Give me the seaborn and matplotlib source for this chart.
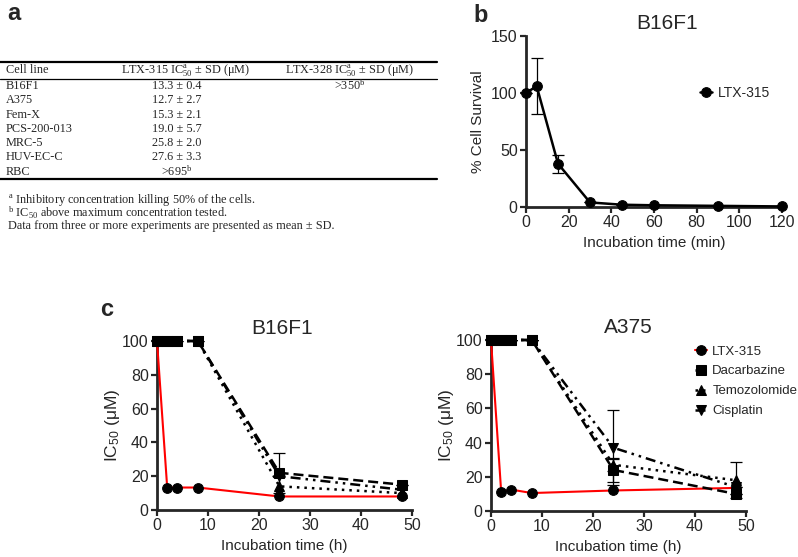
import matplotlib
matplotlib.use("Agg")
import matplotlib.pyplot as plt
import seaborn as sns
from matplotlib.lines import Line2D

# --- data ---
cell_lines = ["B16F1", "A375", "Fem-X", "PCS-200-013", "MRC-5", "HUV-EC-C", "RBC"]
ltx315_ic50 = ["13.3 ± 0.4", "12.7 ± 2.7", "15.3 ± 2.1", "19.0 ± 5.7", "25.8 ± 2.0", "27.6 ± 3.3", ">695$\\mathregular{^b}$"]
ltx328_ic50 = [">350$\\mathregular{^b}$", "", "", "", "", "", ""]

surv_time = [0, 5, 15, 30, 45, 60, 90, 120]
surv_pct = [100, 106, 38, 4, 2, 1.5, 1, 0.5]
surv_sd = [0, 24.5, 8, 0, 0, 0, 0, 0]

hours = [0, 2, 4, 8, 24, 48]
b16_ltx = [100, 13.3, 13.3, 13.3, 8, 8]
b16_dac = [100, 100, 100, 100, 22, 15]
b16_tem = [100, 100, 100, 100, 14, 10]
b16_cis = [100, 100, 100, 100, 20, 12]
b16_dac_sd = [0, 0, 0, 0, 12, 0]

a375_ltx = [100, 11, 12.5, 10.5, 12, 13.5]
a375_dac = [100, 100, 100, 100, 24, 10]
a375_tem = [100, 100, 100, 100, 27, 18]
a375_cis = [100, 100, 100, 100, 37, 14]
a375_dac_sd = [0, 0, 0, 0, 7, 0]
a375_tem_sd = [0, 0, 0, 0, 3.5, 10.5]
a375_cis_sd = [0, 0, 0, 0, 22, 0]

W, H = 798, 557
sns.set_style("ticks")
plt.rcParams['font.family'] = ['Liberation Sans', 'DejaVu Sans']
plt.rcParams['axes.linewidth'] = 2.0

fig = plt.figure(figsize=(W / 100, H / 100), dpi=100)


def fx(x):
    return x / W


def fy(y):
    return 1 - y / H


# ---------- panel a: table ----------
serif = ['Liberation Serif', 'DejaVu Serif']
fig.text(fx(7), fy(14), "a", fontsize=17, fontweight="bold", va="center", ha="left")
for y, lw in [(62, 1.6), (79, 0.9), (179, 1.6)]:
    fig.add_artist(Line2D([fx(0), fx(437)], [fy(y), fy(y)], color="black", lw=lw))
fs = 8.8
fig.text(fx(6), fy(70), "Cell line", family=serif, fontsize=fs, va="center")
fig.text(fx(186), fy(70), "LTX-315 IC$\\mathregular{_{50}^{a}}$ ± SD (μM)", family=serif, fontsize=fs, va="center", ha="center")
fig.text(fx(350), fy(70), "LTX-328 IC$\\mathregular{_{50}^{a}}$ ± SD (μM)", family=serif, fontsize=fs, va="center", ha="center")
for i, (c, v1, v2) in enumerate(zip(cell_lines, ltx315_ic50, ltx328_ic50)):
    y = 86 + i * 14.3
    fig.text(fx(6), fy(y), c, family=serif, fontsize=fs, va="center")
    fig.text(fx(177), fy(y), v1, family=serif, fontsize=fs, va="center", ha="center")
    if v2:
        fig.text(fx(350), fy(y), v2, family=serif, fontsize=fs, va="center", ha="center")
notes = ["$\\mathregular{^a}$ Inhibitory concentration killing 50% of the cells.",
         "$\\mathregular{^b}$ IC$\\mathregular{_{50}}$ above maximum concentration tested.",
         "Data from three or more experiments are presented as mean ± SD."]
for i, n in enumerate(notes):
    fig.text(fx(8), fy(200 + i * 12.8), n, family=serif, fontsize=fs, va="center")


def style_axes(ax):
    sns.despine(ax=ax)
    ax.tick_params(direction="out", length=4, width=1.6, labelsize=11.5, pad=2)


# ---------- panel b ----------
axb = fig.add_axes([fx(526), fy(207), fx(782) - fx(526), fy(36) - fy(207)])
sns.lineplot(x=surv_time, y=surv_pct, ax=axb, color="black", lw=1.8, marker="o",
             markersize=7, markeredgecolor="black", label="LTX-315", clip_on=False, zorder=5)
axb.errorbar(surv_time, surv_pct, yerr=surv_sd, fmt="none", ecolor="black", elinewidth=0.9,
             capsize=4, capthick=0.9)
axb.set_xlim(0, 120)
axb.set_ylim(0, 150)
axb.set_xticks(range(0, 121, 20))
axb.set_yticks([0, 50, 100, 150])
axb.set_title("B16F1", fontsize=15, pad=5, x=0.55)
axb.set_xlabel("Incubation time (min)", fontsize=11)
axb.set_ylabel("% Cell Survival", fontsize=11)
style_axes(axb)
axb.legend(frameon=False, loc="center left", bbox_to_anchor=(0.63, 0.665), fontsize=10,
           handlelength=0.9, handletextpad=0.4)
fig.text(fx(473), fy(15), "b", fontsize=17, fontweight="bold", va="center", ha="left")

# ---------- panel c ----------
series_style = [
    ("LTX-315", "red", "o", "-", 1.5),
    ("Dacarbazine", "black", "s", (0, (4, 2)), 1.8),
    ("Temozolomide", "black", "^", (0, (1, 2)), 1.8),
    ("Cisplatin", "black", "v", (0, (4, 2, 1, 2, 1, 2)), 1.8),
]


def draw_ic50(ax, values, errs, title, title_x):
    for (name, col, mk, ls, lw), vals in zip(series_style, values):
        sns.lineplot(x=hours, y=vals, ax=ax, color=col, lw=lw, linestyle=ls, marker=mk,
                     markersize=7, markerfacecolor="black", markeredgecolor="black",
                     label=name, clip_on=False, zorder=5)
    for vals, sd in errs:
        ax.errorbar(hours, vals, yerr=sd, fmt="none", ecolor="black", elinewidth=0.9,
                    capsize=4, capthick=0.9, zorder=4)
    ax.set_xlim(0, 50)
    ax.set_ylim(0, 100)
    ax.set_xticks(range(0, 51, 10))
    ax.set_yticks(range(0, 101, 20))
    ax.set_title(title, fontsize=15, pad=5, x=title_x)
    ax.set_xlabel("Incubation time (h)", fontsize=11)
    ax.set_ylabel("IC$\\mathregular{_{50}}$ (μM)", fontsize=12.5, labelpad=0)
    style_axes(ax)


axc1 = fig.add_axes([fx(157), fy(510), fx(412) - fx(157), fy(341) - fy(510)])
draw_ic50(axc1, [b16_ltx, b16_dac, b16_tem, b16_cis], [(b16_dac, b16_dac_sd)], "B16F1", 0.49)
axc1.get_legend().remove()

axc2 = fig.add_axes([fx(491), fy(511), fx(746) - fx(491), fy(340) - fy(511)])
draw_ic50(axc2, [a375_ltx, a375_dac, a375_tem, a375_cis],
          [(a375_dac, a375_dac_sd), (a375_tem, a375_tem_sd), (a375_cis, a375_cis_sd)], "A375", 0.537)
axc2.legend(frameon=False, loc="upper left", bbox_to_anchor=(0.78, 1.0), fontsize=9.5,
            handlelength=0.9, handletextpad=0.4, labelspacing=0.58, borderaxespad=0)
fig.text(fx(100), fy(309), "c", fontsize=17, fontweight="bold", va="center", ha="left")

fig.savefig("out.png", dpi=100)
